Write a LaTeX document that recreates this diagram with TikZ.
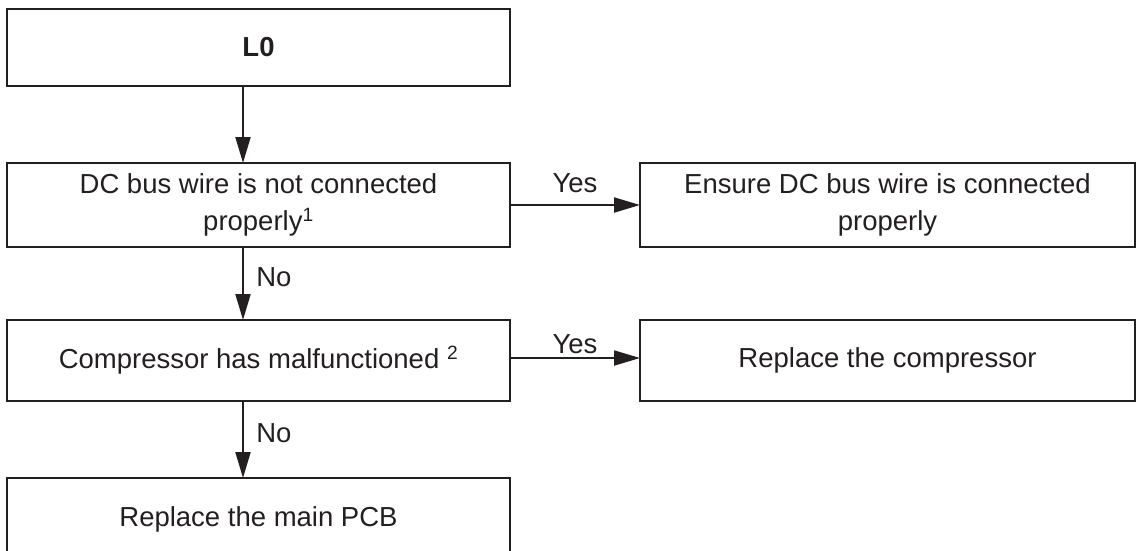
\documentclass[tikz,border=0pt]{standalone}
\usepackage{fontspec}
\setmainfont{Liberation Sans}
\usetikzlibrary{arrows.meta}
\definecolor{ink}{HTML}{231F20}
\begin{document}
\begin{tikzpicture}[x=1pt,y=-1pt,
  box/.style={draw=ink,line width=2.6pt,rectangle,inner sep=0pt,outer sep=0pt,
    align=center,text=ink,font=\fontsize{27.5}{37}\selectfont},
  wide/.style={minimum width=503pt},
  narrow/.style={minimum width=495pt},
  flow/.style={draw=ink,line width=2pt,-{Triangle[length=26pt,width=15pt]}},
  lbl/.style={text=ink,font=\fontsize{27.5}{33}\selectfont}]
  % Frame
  \useasboundingbox (0,0) rectangle (1136,550);
  \clip (0,0) rectangle (1136,550);
  \coordinate (spine) at (243,0);
  % Boxes
  \node[box,wide,minimum height=77pt] (l0) at (258.5,47.5) {\bfseries L0};
  \node[box,wide,minimum height=84pt] (dcbus) at (258.5,205)
    {DC bus wire is not connected\\properly\textsuperscript{1}};
  \node[box,narrow,minimum height=84pt] (ensure) at (887.5,205)
    {Ensure DC bus wire is connected\\properly};
  \node[box,wide,minimum height=81pt] (comp) at (258.5,360.5)
    {Compressor has malfunctioned \textsuperscript{2}};
  \node[box,narrow,minimum height=81pt] (repcomp) at (887.5,360.5)
    {Replace the compressor};
  \node[box,wide,minimum height=82pt] (pcb) at (258.5,519)
    {Replace the main PCB};
  % Arrows down
  \draw[flow] (l0.south -| spine) -- (dcbus.north -| spine);
  \draw[flow] (dcbus.south -| spine) -- node[lbl,right=9pt,pos=0.42] {No} (comp.north -| spine);
  \draw[flow] (comp.south -| spine) -- node[lbl,right=9pt,pos=0.42] {No} (pcb.north -| spine);
  % Arrows right
  \draw[flow] (dcbus.east) -- node[lbl,above=7.5pt] {Yes} (ensure.west);
  \draw[flow] ([yshift=2.5pt]comp.east) -- node[lbl,above] {Yes} ([yshift=2.5pt]repcomp.west);
\end{tikzpicture}
\end{document}
